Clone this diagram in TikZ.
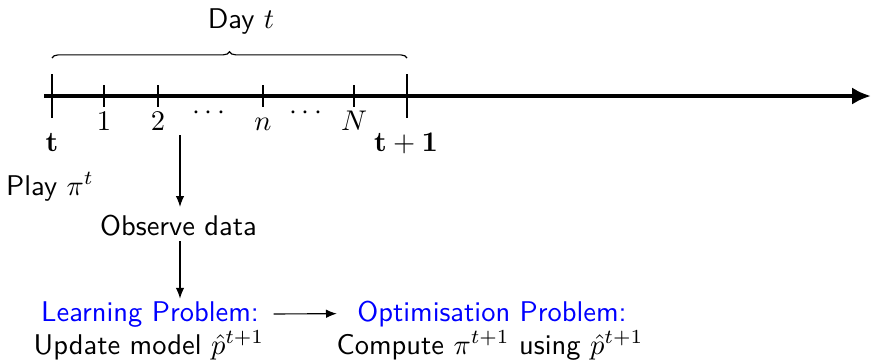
\documentclass[tikz,border=0pt]{standalone}
\usepackage{amsmath}
\usetikzlibrary{arrows.meta,positioning,calc,decorations.pathreplacing}

\begin{document}
\begin{tikzpicture}[
  x=0.351pt, y=0.351pt,
  font=\sffamily,
  timeline/.style={line width=1.4pt, -{Latex[length=6.6pt,width=6pt]}},
  daytick/.style={line width=.4pt},
  slottick/.style={line width=.4pt},
  arrow/.style={-{Latex[length=3.8pt,width=3pt]}, line width=.4pt},
  lbl/.style={anchor=base, inner sep=0pt},
  stagebox/.style={anchor=base, inner sep=0pt},
  title/.style={stagebox, text=blue}
]
\useasboundingbox (0,0) rectangle (871,-361);

% time axis
\coordinate (start) at (44,-96);
\coordinate (end) at (871,-96);
\coordinate (t) at (52,-96);
\coordinate (tnext) at (407,-96);
\coordinate (s1) at (104,-96);
\coordinate (s2) at (158,-96);
\coordinate (sn) at (263,-96);
\coordinate (sN) at (354,-96);

\draw[timeline] (start) -- (end);
\draw[daytick] (t) ++(0,22) -- ++(0,-44);
\draw[daytick] (tnext) ++(0,22) -- ++(0,-44);
\draw[slottick] (s1) ++(0,11) -- ++(0,-22);
\draw[slottick] (s2) ++(0,11) -- ++(0,-22);
\draw[slottick] (sn) ++(0,11) -- ++(0,-22);
\draw[slottick] (sN) ++(0,11) -- ++(0,-22);

\node[lbl] (lone) at (104,-130) {$1$};
\node[lbl] (ltwo) at (158,-130) {$2$};
\node[lbl] (ldots) at (211,-119) {$\cdots$};
\node[lbl] (ln) at (263,-130) {$n$};
\node[lbl] (lmore) at (308,-119) {$\cdots$};
\node[lbl] (lN) at (354,-130) {$N$};
\node[lbl] (lt) at (52,-151) {$\mathbf{t}$};
\node[lbl] (ltnext) at (406,-151) {$\mathbf{t+1}$};

% the day
\draw[decorate, decoration={brace, amplitude=2.2pt}, line width=.4pt]
  ($(t)+(0,38)$) -- ($(tnext)+(0,38)$);
\node[lbl] (day) at (241,-28) {Day $t$};

% what happens in it
\node[lbl] (play) at (50,-195) {Play $\pi^t$};
\coordinate (obsstart) at (180,-135);
\node[stagebox] (observe) at (178.5,-235) {Observe data};
\node[title] (learn) at (150,-321) {Learning Problem:};
\node[stagebox] (update) at (149,-354) {Update model $\hat{p}^{t+1}$};
\node[title] (opt) at (492,-321) {Optimisation Problem:};
\node[stagebox] (compute) at (490,-354) {Compute $\pi^{t+1}$ using $\hat{p}^{t+1}$};

\draw[arrow, shorten >=2.5pt] (obsstart) -- (obsstart |- observe.north);
\draw[arrow, shorten <=1.8pt, shorten >=0.7pt] (obsstart |- observe.south) -- (obsstart |- learn.north);
\draw[arrow, shorten <=5pt, shorten >=7pt] (learn.east) -- (opt.west);
\end{tikzpicture}
\end{document}
